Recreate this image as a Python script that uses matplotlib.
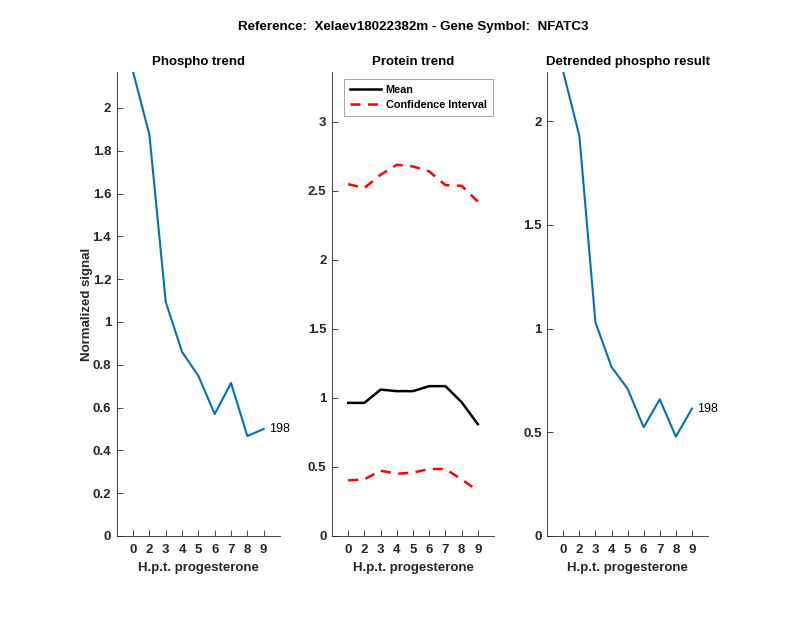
import numpy as np
import matplotlib.pyplot as plt

plt.rcParams['font.family'] = ['Liberation Sans', 'DejaVu Sans']

# time points (h.p.t. progesterone) plotted at positions 1..9
hours = ['0', '2', '3', '4', '5', '6', '7', '8', '9']
pos = np.arange(1, len(hours) + 1)

phospho = [2.168, 1.874, 1.093, 0.86, 0.748, 0.570, 0.715, 0.467, 0.500]
protein_mean = [0.964, 0.964, 1.060, 1.049, 1.049, 1.085, 1.085, 0.969, 0.810]
protein_hi = [2.548, 2.520, 2.616, 2.688, 2.676, 2.640, 2.541, 2.536, 2.422]
protein_lo = [0.403, 0.410, 0.473, 0.451, 0.459, 0.485, 0.485, 0.410, 0.328]
detrended = [2.237, 1.929, 1.030, 0.815, 0.710, 0.524, 0.659, 0.479, 0.614]
peptide_id = '198'

blue = '#0072BD'
axcol = '#262626'
fs = 9.5

fig = plt.figure(figsize=(8, 6.18), dpi=100)
ax1 = fig.add_axes([0.146, 0.1327, 0.204, 0.7508])
ax2 = fig.add_axes([0.415, 0.1327, 0.2025, 0.7508])
ax3 = fig.add_axes([0.684, 0.1327, 0.201, 0.7508])


def style(ax, yticks):
    ax.set_xlim(0, 10)
    ax.set_xticks(pos)
    ax.set_xticklabels(hours)
    ax.set_yticks(yticks)
    ax.set_yticklabels([('%g' % v) for v in yticks])
    for s in ['top', 'right']:
        ax.spines[s].set_visible(False)
    for s in ['left', 'bottom']:
        ax.spines[s].set_color(axcol)
        ax.spines[s].set_linewidth(0.6)
    ax.tick_params(direction='in', length=4, width=0.6, color=axcol,
                   labelsize=9.5, labelcolor=axcol)
    ax.tick_params(axis='y', pad=4)
    ax.tick_params(axis='x', pad=6)
    for lab in ax.get_xticklabels() + ax.get_yticklabels():
        lab.set_fontweight('bold')
    ax.set_xlabel('H.p.t. progesterone', fontsize=fs, fontweight='bold', color=axcol)


# phospho trend
ax1.plot(pos, phospho, color=blue, lw=1.5)
ax1.text(pos[-1] + 0.35, phospho[-1], peptide_id, fontsize=9, va='center')
ax1.set_ylim(0, max(phospho))
style(ax1, [0, 0.2, 0.4, 0.6, 0.8, 1, 1.2, 1.4, 1.6, 1.8, 2])
ax1.set_title('Phospho trend', fontsize=fs, fontweight='bold', pad=5)
ax1.set_ylabel('Normalized signal', fontsize=fs, fontweight='bold', color=axcol)
ax1.yaxis.set_label_coords(-0.145, 0.5)

# protein trend
ax2.plot(pos, protein_mean, color='black', lw=1.8, label='Mean')
ax2.plot(pos, protein_hi, color='#FF0000', lw=1.8, ls=(0, (4, 3)), label='Confidence Interval')
ax2.plot(pos, protein_lo, color='#FF0000', lw=1.8, ls=(0, (4, 3)))
ax2.set_ylim(0, 3.36)
style(ax2, [0, 0.5, 1, 1.5, 2, 2.5, 3])
ax2.set_title('Protein trend', fontsize=fs, fontweight='bold', pad=5)
leg = ax2.legend(loc='upper left', bbox_to_anchor=(0.074, 0.985), fontsize=7.8,
                 frameon=True, fancybox=False, edgecolor='#808080',
                 handlelength=2.9, handletextpad=0.4, borderpad=0.55,
                 labelspacing=0.45, borderaxespad=0)
leg.get_frame().set_linewidth(0.6)
for t in leg.get_texts():
    t.set_fontweight('bold')

# detrended phospho
ax3.plot(pos, detrended, color=blue, lw=1.5)
ax3.text(pos[-1] + 0.35, detrended[-1], peptide_id, fontsize=9, va='center')
ax3.set_ylim(0, max(detrended))
style(ax3, [0, 0.5, 1, 1.5, 2])
ax3.set_title('Detrended phospho result', fontsize=fs, fontweight='bold', pad=5)

fig.text(0.516, 0.956, 'Reference:  Xelaev18022382m - Gene Symbol:  NFATC3',
         ha='center', va='center', fontsize=9.6, fontweight='bold')

fig.savefig('out.png', dpi=100, facecolor='white')
